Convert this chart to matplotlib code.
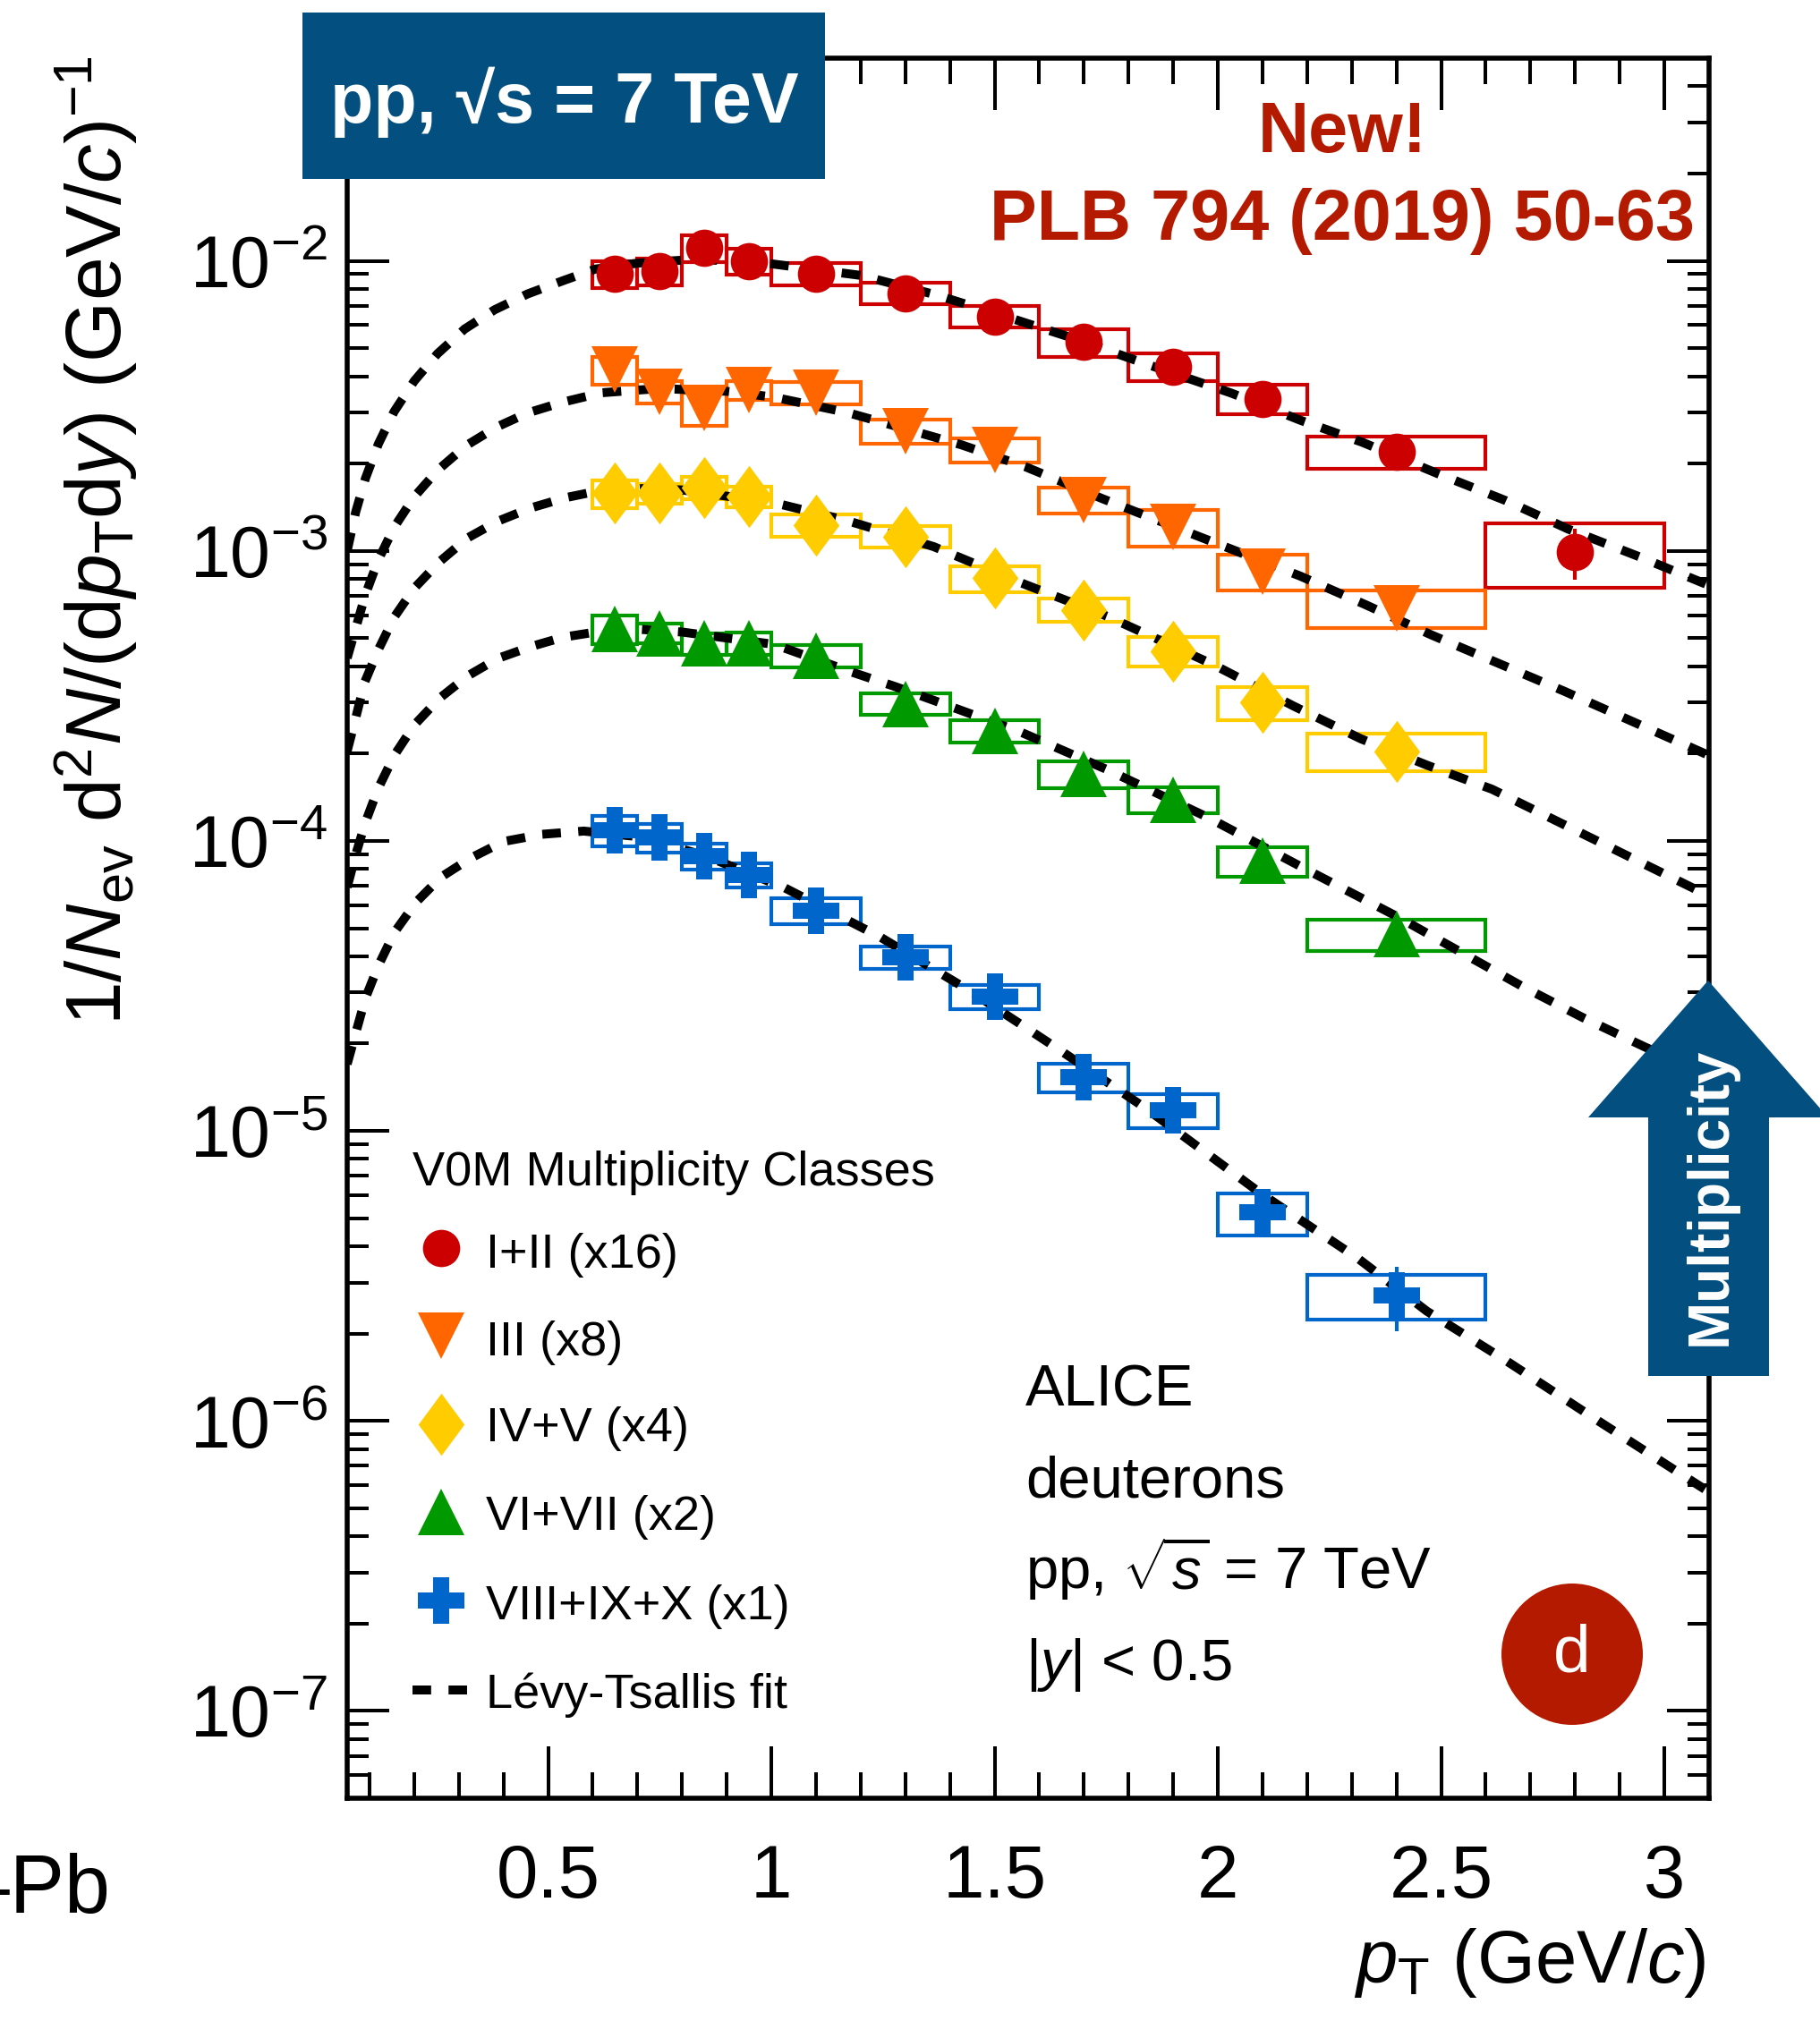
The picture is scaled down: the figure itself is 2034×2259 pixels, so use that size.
import matplotlib.pyplot as plt
from matplotlib.patches import Rectangle, Ellipse, Polygon
from matplotlib.lines import Line2D
from matplotlib.ticker import MultipleLocator, LogLocator, NullFormatter

plt.rcParams["font.family"] = ["Liberation Sans", "DejaVu Sans"]
plt.rcParams["mathtext.fontset"] = "custom"
plt.rcParams["mathtext.rm"] = "Liberation Sans"
plt.rcParams["mathtext.it"] = "Liberation Sans:italic"
plt.rcParams["mathtext.bf"] = "Liberation Sans:bold"
plt.rcParams["lines.scale_dashes"] = False

# pT bins (GeV/c)
pt_low = [0.6, 0.7, 0.8, 0.9, 1.0, 1.2, 1.4, 1.6, 1.8, 2.0, 2.2, 2.6]
pt_high = [0.7, 0.8, 0.9, 1.0, 1.2, 1.4, 1.6, 1.8, 2.0, 2.2, 2.6, 3.0]

# deuteron yields per multiplicity class (already scaled)
yield_12 = [9.03e-3, 9.22e-3, 1.108e-2, 1.0e-2, 9.03e-3, 7.74e-3, 6.44e-3,
            5.25e-3, 4.32e-3, 3.35e-3, 2.20e-3, 9.93e-4]
yield_3 = [4.21e-3, 3.53e-3, 3.10e-3, 3.58e-3, 3.52e-3, 2.59e-3, 2.23e-3,
           1.50e-3, 1.21e-3, 8.5e-4, 6.35e-4]
yield_45 = [1.58e-3, 1.58e-3, 1.65e-3, 1.54e-3, 1.23e-3, 1.12e-3, 8.04e-4,
            6.26e-4, 4.51e-4, 3.0e-4, 2.04e-4]
yield_67 = [5.38e-4, 5.20e-4, 4.79e-4, 4.80e-4, 4.35e-4, 2.97e-4, 2.39e-4,
            1.70e-4, 1.39e-4, 8.53e-5, 4.76e-5]
yield_8910 = [1.085e-4, 1.03e-4, 8.87e-5, 7.63e-5, 5.76e-5, 3.97e-5, 2.90e-5,
              1.53e-5, 1.18e-5, 5.23e-6, 2.71e-6]

# relative systematic uncertainties
sys_12 = [0.105, 0.105, 0.105, 0.105, 0.087, 0.084, 0.087, 0.11, 0.11, 0.117,
          0.13, 0.25]
sys_3 = [0.11, 0.089, 0.13, 0.075, 0.089, 0.096, 0.096, 0.103, 0.145, 0.142,
         0.147]
sys_45 = [0.11, 0.078, 0.089, 0.082, 0.089, 0.085, 0.103, 0.092, 0.117, 0.128,
          0.147]
sys_67 = [0.114, 0.078, 0.085, 0.089, 0.089, 0.085, 0.089, 0.103, 0.103,
          0.117, 0.124]
sys_8910 = [0.12, 0.114, 0.10, 0.096, 0.103, 0.089, 0.096, 0.114, 0.135,
            0.167, 0.177]

# relative statistical uncertainties
stat_12 = [0.02, 0.02, 0.02, 0.02, 0.02, 0.03, 0.03, 0.04, 0.05, 0.07, 0.09,
           0.20]
stat_3 = [0.03, 0.03, 0.03, 0.03, 0.03, 0.04, 0.05, 0.06, 0.07, 0.09, 0.12]
stat_45 = [0.03, 0.03, 0.03, 0.03, 0.03, 0.04, 0.05, 0.06, 0.07, 0.09, 0.12]
stat_67 = [0.03, 0.03, 0.03, 0.03, 0.03, 0.04, 0.05, 0.06, 0.07, 0.09, 0.12]
stat_8910 = [0.03, 0.03, 0.03, 0.04, 0.04, 0.05, 0.06, 0.08, 0.10, 0.13,
             0.25]

# Levy-Tsallis fits
fit_pt_12 = [0.05, 0.069, 0.091, 0.12, 0.155, 0.2, 0.252, 0.313, 0.38, 0.454,
             0.534, 0.606, 0.7, 0.8, 0.9, 1.0, 1.2, 1.368, 1.541, 1.673,
             1.832, 2.03, 2.185, 2.323, 2.491, 2.645, 2.784, 2.945, 3.1]
fit_12 = [1.0e-3, 1.36e-3, 1.78e-3, 2.34e-3, 3.02e-3, 3.85e-3, 4.78e-3,
          5.82e-3, 6.78e-3, 7.69e-3, 8.55e-3, 9.37e-3, 9.82e-3, 1.005e-2,
          1.005e-2, 9.77e-3, 8.91e-3, 7.64e-3, 6.31e-3, 5.43e-3, 4.45e-3,
          3.50e-3, 2.82e-3, 2.37e-3, 1.85e-3, 1.49e-3, 1.19e-3, 9.53e-4,
          7.6e-4]
fit_pt_3 = [0.05, 0.069, 0.091, 0.12, 0.155, 0.2, 0.253, 0.317, 0.384, 0.454,
            0.534, 0.62, 0.75, 0.9, 1.005, 1.17, 1.329, 1.426, 1.569, 1.743,
            1.958, 2.04, 2.185, 2.331, 2.477, 2.626, 2.776, 2.926, 3.1]
fit_3 = [4.27e-4, 5.40e-4, 7.08e-4, 9.33e-4, 1.205e-3, 1.535e-3, 1.90e-3,
         2.31e-3, 2.67e-3, 2.99e-3, 3.26e-3, 3.51e-3, 3.63e-3, 3.55e-3,
         3.39e-3, 3.00e-3, 2.56e-3, 2.32e-3, 1.95e-3, 1.51e-3, 1.12e-3,
         1.00e-3, 8.18e-4, 6.52e-4, 5.14e-4, 4.11e-4, 3.28e-4, 2.59e-4,
         1.97e-4]
fit_pt_45 = [0.05, 0.069, 0.089, 0.12, 0.156, 0.2, 0.257, 0.32, 0.387, 0.461,
             0.541, 0.607, 0.7, 0.8, 1.006, 1.17, 1.363, 1.557, 1.753, 1.989,
             2.169, 2.32, 2.47, 2.614, 3.1]
fit_45 = [2.04e-4, 2.65e-4, 3.52e-4, 4.57e-4, 5.93e-4, 7.43e-4, 9.18e-4,
          1.109e-3, 1.265e-3, 1.406e-3, 1.528e-3, 1.603e-3, 1.641e-3,
          1.622e-3, 1.466e-3, 1.271e-3, 1.035e-3, 7.78e-4, 5.94e-4, 4.06e-4,
          2.92e-4, 2.25e-4, 1.82e-4, 1.507e-4, 6.46e-5]
fit_pt_67 = [0.05, 0.069, 0.091, 0.12, 0.156, 0.2, 0.257, 0.32, 0.387, 0.464,
             0.534, 0.607, 0.7, 0.8, 1.006, 1.18, 1.276, 1.364, 1.559, 1.753,
             1.979, 2.2, 2.4, 2.68, 2.817, 2.957, 3.1]
fit_67 = [6.92e-5, 8.95e-5, 1.161e-4, 1.524e-4, 1.977e-4, 2.506e-4, 3.105e-4,
          3.707e-4, 4.256e-4, 4.69e-4, 5.04e-4, 5.25e-4, 5.37e-4, 5.25e-4,
          4.76e-4, 3.82e-4, 3.41e-4, 3.05e-4, 2.37e-4, 1.758e-4, 1.202e-4,
          7.94e-5, 5.5e-5, 3.16e-5, 2.46e-5, 1.945e-5, 1.55e-5]
fit_pt_8910 = [0.05, 0.069, 0.091, 0.12, 0.156, 0.204, 0.26, 0.327, 0.4,
               0.487, 0.58, 0.7, 0.85, 1.029, 1.244, 1.449, 1.646, 1.843, 2.1,
               2.313, 2.468, 2.641, 2.845, 3.054, 3.1]
fit_8910 = [1.70e-5, 2.17e-5, 2.87e-5, 3.72e-5, 4.84e-5, 6.14e-5, 7.50e-5,
            8.73e-5, 9.95e-5, 1.054e-4, 1.081e-4, 1.035e-4, 8.91e-5, 6.90e-5,
            4.66e-5, 3.01e-5, 1.90e-5, 1.183e-5, 6.03e-6, 3.64e-6, 2.39e-6,
            1.63e-6, 1.016e-6, 6.31e-7, 5.69e-7]

class_labels = ["I+II (x16)", "III (x8)", "IV+V (x4)", "VI+VII (x2)",
                "VIII+IX+X (x1)"]
xtick_values = [0.5, 1, 1.5, 2, 2.5, 3]
xtick_labels = ["0.5", "1", "1.5", "2", "2.5", "3"]

diamond = [(0, 1), (0.74, 0), (0, -1), (-0.74, 0)]
series = [
    (yield_12, sys_12, stat_12, fit_pt_12, fit_12, "#cc0000", "o", 30),
    (yield_3, sys_3, stat_3, fit_pt_3, fit_3, "#ff6600", "v", 37),
    (yield_45, sys_45, stat_45, fit_pt_45, fit_45, "#ffcc00", diamond, 50),
    (yield_67, sys_67, stat_67, fit_pt_67, fit_67, "#009900", "^", 37),
    (yield_8910, sys_8910, stat_8910, fit_pt_8910, fit_8910, "#0066cc", "P",
     38),
]

W, H = 2034, 2259
dark_blue = "#024f80"
badge_red = "#b41a00"
fit_dash = (15, 14)


def fx(px):
    return px / W


def fy(py):
    return 1 - py / H


fig = plt.figure(figsize=(W / 100, H / 100), dpi=100)
ax = fig.add_axes([fx(388), fy(2010), (1910 - 388) / W, (2010 - 65) / H])
ax.set_yscale("log")

for values, sys, stat, fpt, fval, color, marker, size in series:
    n = len(values)
    centers = [(pt_low[i] + pt_high[i]) / 2 for i in range(n)]
    for i in range(n):
        lo = values[i] * (1 - sys[i])
        hi = values[i] * (1 + sys[i])
        ax.add_patch(Rectangle((pt_low[i], lo), pt_high[i] - pt_low[i],
                               hi - lo, fill=False, ec=color, lw=3,
                               zorder=2))
    ax.plot(fpt, fval, color="black", lw=7.2, dashes=fit_dash, zorder=3)
    err = [v * s for v, s in zip(values, stat)]
    ax.errorbar(centers, values, yerr=[err, err], fmt="none", ecolor=color,
                elinewidth=3, capsize=0, zorder=4)
    ax.plot(centers, values, ls="none", marker=marker, ms=size, mfc=color,
            mec=color, mew=0, zorder=5)

ax.set_xlim(0.05, 3.1)
ax.set_ylim(5e-8, 5e-2)
ax.set_xticks(xtick_values, labels=xtick_labels)
ax.xaxis.set_minor_locator(MultipleLocator(0.1))
ax.yaxis.set_major_locator(LogLocator(base=10, numticks=20))
ax.yaxis.set_minor_locator(LogLocator(base=10, subs=range(2, 10),
                                      numticks=20))
ax.yaxis.set_minor_formatter(NullFormatter())
for side in ax.spines.values():
    side.set_linewidth(4)
ax.tick_params(which="both", direction="in", top=True, right=True, width=2.9)
ax.tick_params(axis="x", which="major", length=42, pad=36, labelsize=60)
ax.tick_params(axis="x", which="minor", length=21)
ax.tick_params(axis="y", which="major", length=34, pad=16, labelsize=58)
ax.tick_params(axis="y", which="minor", length=17)

# axis titles
fig.text(fx(108), fy(62),
         "1/$N_{\\rm ev}$ d$^{2}$$N$/(d$p_{\\rm T}$d$y$) (GeV/$c$)$^{-1}$",
         rotation=90, ha="center", va="top", fontsize=63)
fig.text(fx(1907), fy(2216), "$p_{\\rm T}$ (GeV/$c$)", ha="right",
         va="baseline", fontsize=60)
fig.text(fx(123), fy(2138), "p–Pb", ha="right", va="baseline", fontsize=66)

# collision system box
fig.add_artist(Rectangle((fx(338), fy(200)), (922 - 338) / W, (200 - 14) / H,
                         transform=fig.transFigure, fc=dark_blue, ec="none",
                         zorder=5))
fig.text(fx(631), fy(137), "pp, √s = 7 TeV", ha="center", va="baseline",
         fontsize=57, fontweight="bold", color="white", zorder=6)

fig.text(fx(1500), fy(170), "New!", ha="center", va="baseline", fontsize=57,
         fontweight="bold", color=badge_red, zorder=6)
fig.text(fx(1500), fy(268), "PLB 794 (2019) 50-63", ha="center",
         va="baseline", fontsize=57, fontweight="bold", color=badge_red,
         zorder=6)

# legend
fig.text(fx(461), fy(1325), "V0M Multiplicity Classes", ha="left",
         va="baseline", fontsize=39)
legend_marker_y = [1395, 1493, 1592, 1690, 1789]
legend_text_y = [1417, 1515, 1611, 1710, 1810]
for k, (values, sys, stat, fpt, fval, color, marker, size) in enumerate(series):
    fig.add_artist(Line2D([fx(493)], [fy(legend_marker_y[k])],
                          transform=fig.transFigure, ls="none", marker=marker,
                          ms=size, mfc=color, mec=color, mew=0))
    fig.text(fx(543), fy(legend_text_y[k]), class_labels[k], ha="left",
             va="baseline", fontsize=39)
fig.add_artist(Line2D([fx(461), fx(522)], [fy(1889), fy(1889)],
                      transform=fig.transFigure, color="black", lw=7.2,
                      dashes=fit_dash))
fig.text(fx(543), fy(1909), "Lévy-Tsallis fit", ha="left", va="baseline",
         fontsize=39)

# system info
info_lines = ["ALICE", "deuterons", "pp, $\\sqrt{s}$ = 7 TeV",
              "|$y$| < 0.5"]
info_base = [1571, 1673, 1776, 1878]
for line, base in zip(info_lines, info_base):
    fig.text(fx(1146), fy(base), line, ha="left", va="baseline", fontsize=47)

# particle badge
fig.add_artist(Ellipse((fx(1757), fy(1849)), 158 / W, 158 / H,
                       transform=fig.transFigure, fc=badge_red, ec="none",
                       zorder=5))
fig.text(fx(1757), fy(1849), "d", ha="center", va="center", fontsize=54,
         color="white", zorder=6)

# multiplicity arrow
arrow = [(1909, 1096), (2043, 1249), (1977, 1249), (1977, 1538),
         (1842, 1538), (1842, 1249), (1775, 1249)]
fig.add_artist(Polygon([(fx(a), fy(b)) for a, b in arrow], closed=True,
                       transform=fig.transFigure, fc=dark_blue, ec="none",
                       zorder=5))
fig.text(fx(1912), fy(1337), "Multiplicity", rotation=90, ha="center",
         va="center", fontsize=46, fontweight="bold", color="white",
         zorder=6)

fig.savefig("out.png", dpi=100)
